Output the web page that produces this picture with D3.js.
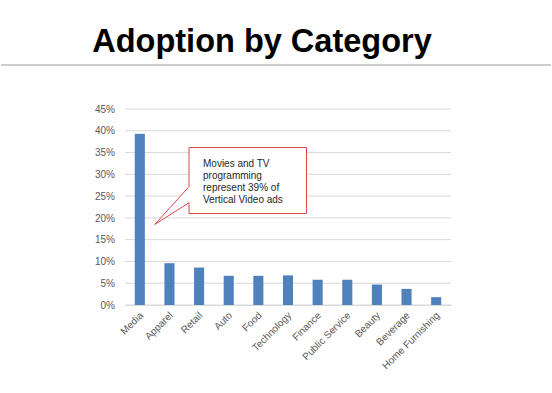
<!DOCTYPE html>
<html><head><meta charset="utf-8">
<script src="https://cdn.jsdelivr.net/npm/d3@7"></script>
<style>
html,body{margin:0;padding:0;background:#fff;}
svg{display:block;font-family:"Liberation Sans",Arial,sans-serif;}
</style></head>
<body>
<svg id="chart" width="552" height="393"></svg>
<script>
const title = "Adoption by Category";
const categories = ["Media","Apparel","Retail","Auto","Food","Technology","Finance","Public Service","Beauty","Beverage","Home Furnishing"];
const values = [39.3,9.6,8.6,6.7,6.7,6.8,5.8,5.8,4.7,3.7,1.8];
const yTicks = [0,5,10,15,20,25,30,35,40,45];
const calloutLines = ["Movies and TV","programming","represent 39% of","Vertical Video ads"];

(function(){
const svg = d3.select("#chart");
svg.append("text").attr("x",262).attr("y",52).attr("text-anchor","middle")
  .attr("font-size",32.5).attr("font-weight","bold").attr("fill","#000").text(title);
svg.append("line").attr("x1",1).attr("x2",551).attr("y1",65).attr("y2",65)
  .attr("stroke","#bdbdbd").attr("stroke-width",1.5);

const pl=125, pr=451, pt=109, pb=305;
const x = d3.scaleBand().domain(categories).range([pl,pr]).paddingInner(0.66).paddingOuter(0.33);
const y = d3.scaleLinear().domain([0,45]).range([pb,pt]);

svg.append("g").selectAll("line").data(yTicks).join("line")
  .attr("x1",pl).attr("x2",pr).attr("y1",d=>y(d)).attr("y2",d=>y(d))
  .attr("stroke","#d9d9d9").attr("stroke-width",1);

const yAxis = svg.append("g").attr("transform",`translate(${pl},0)`)
  .call(d3.axisLeft(y).tickValues(yTicks).tickFormat(d=>d+"%").tickSize(0).tickPadding(10));
yAxis.select(".domain").remove();
yAxis.selectAll("text").attr("font-size",10).attr("fill","#595959").attr("font-family","Liberation Sans, Arial, sans-serif");

svg.append("g").selectAll("rect").data(values).join("rect")
  .attr("x",(d,i)=>x(categories[i])).attr("width",x.bandwidth())
  .attr("y",d=>y(d)).attr("height",d=>pb-y(d)).attr("fill","#4f81bd");

const xAxis = svg.append("g").attr("transform",`translate(0,${pb})`)
  .call(d3.axisBottom(x).tickSize(0).tickPadding(0));
xAxis.select(".domain").attr("stroke","#d9d9d9");
xAxis.selectAll("text").attr("font-size",10).attr("fill","#595959")
  .attr("font-family","Liberation Sans, Arial, sans-serif")
  .attr("text-anchor","end").attr("dy","0")
  .attr("transform","translate(4,11) rotate(-45)");

const bx=189, by=147.5, bw=117.5, bh=66;
const tipX = x("Media")+x.bandwidth()/2+15, tipY = y(18.5);
const p = d3.path();
p.moveTo(bx,by); p.lineTo(bx+bw,by); p.lineTo(bx+bw,by+bh); p.lineTo(bx,by+bh);
p.lineTo(bx,202.7); p.lineTo(tipX,tipY); p.lineTo(bx,186.7); p.closePath();
svg.append("path").attr("d",p.toString()).attr("fill","#fff").attr("stroke","#e0474c").attr("stroke-width",1);
svg.append("g").selectAll("text").data(calloutLines).join("text")
  .attr("x",203).attr("y",(d,i)=>166.5+i*12).attr("font-size",10).attr("fill","#262626").text(d=>d);
})();
</script>
</body></html>
